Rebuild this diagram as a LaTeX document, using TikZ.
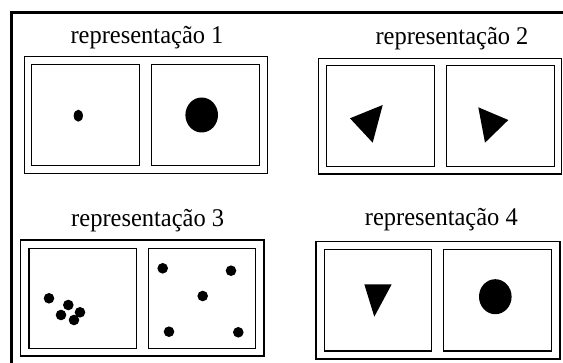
\documentclass[tikz,border=0pt]{standalone}
\usepackage{fontspec}
\setmainfont{Liberation Serif}
\begin{document}
\begin{tikzpicture}[x=1pt,y=-1pt,
  outerbox/.style={draw=black,line width=1.3pt},
  innerbox/.style={draw=black,line width=1.3pt},
  ttl/.style={font=\fontsize{25.5}{28}\selectfont,anchor=base,inner sep=0pt,xscale=0.96},
  blob/.style={fill=black,draw=none},
  frame/.style={line width=2.8pt}]
\useasboundingbox (0,0) rectangle (563,363);
\fill[white] (0,0) rectangle (563,363);
% outer frame (top and left edges visible)
\draw[frame] (11.3,363) -- (11.3,12.8) -- (563,12.8);

% representation 1
\node[ttl] (t1) at (147,44) {representação 1};
\draw[outerbox] (24.3,56.7) rectangle (267.3,173.3);
\draw[innerbox] (31.7,64.3) rectangle (139.3,165.7);
\draw[innerbox] (151.7,64.3) rectangle (259.3,165.7);
\fill[blob] (78.3,115.7) ellipse [x radius=4.6pt, y radius=6pt];
\fill[blob] (201.7,115) ellipse [x radius=16.3pt, y radius=17.5pt];

% representation 2
\node[ttl] (t2) at (452,44.5) {representação 2};
\draw[outerbox] (318.3,58.3) rectangle (561.7,174);
\draw[innerbox] (326.7,65.7) rectangle (434.3,166.7);
\draw[innerbox] (446.7,65.7) rectangle (554.3,166.7);
\fill[blob] (350,118.3) -- (382.7,105) -- (372.7,142.7) -- cycle;
\fill[blob] (478.3,107.3) -- (508.3,120) -- (485,142.7) -- cycle;

% representation 3
\node[ttl] (t3) at (147.7,227) {representação 3};
\draw[outerbox] (20.7,240) rectangle (264,356);
\draw[innerbox] (29,248.3) rectangle (136.7,348.3);
\draw[innerbox] (148.3,248.3) rectangle (255.7,348.3);
\foreach \p in {(49,298.3),(68.3,305),(80,312.3),(61,315),(74,320),
                (162.7,268.3),(231,270.7),(202.7,296),(169,331.7),(238.3,332.3)}
  \fill[blob] \p circle [radius=5.3pt];

% representation 4
\node[ttl] (t4) at (441.3,225.5) {representação 4};
\draw[outerbox] (316,241.7) rectangle (560,359);
\draw[innerbox] (324.3,249.3) rectangle (431.7,351);
\draw[innerbox] (443.3,249.3) rectangle (551.7,351);
\fill[blob] (364.3,284.3) -- (391.7,284.3) -- (374.3,316.7) -- cycle;
\fill[blob] (495.3,296.7) ellipse [x radius=16.3pt, y radius=17.5pt];
\end{tikzpicture}
\end{document}
